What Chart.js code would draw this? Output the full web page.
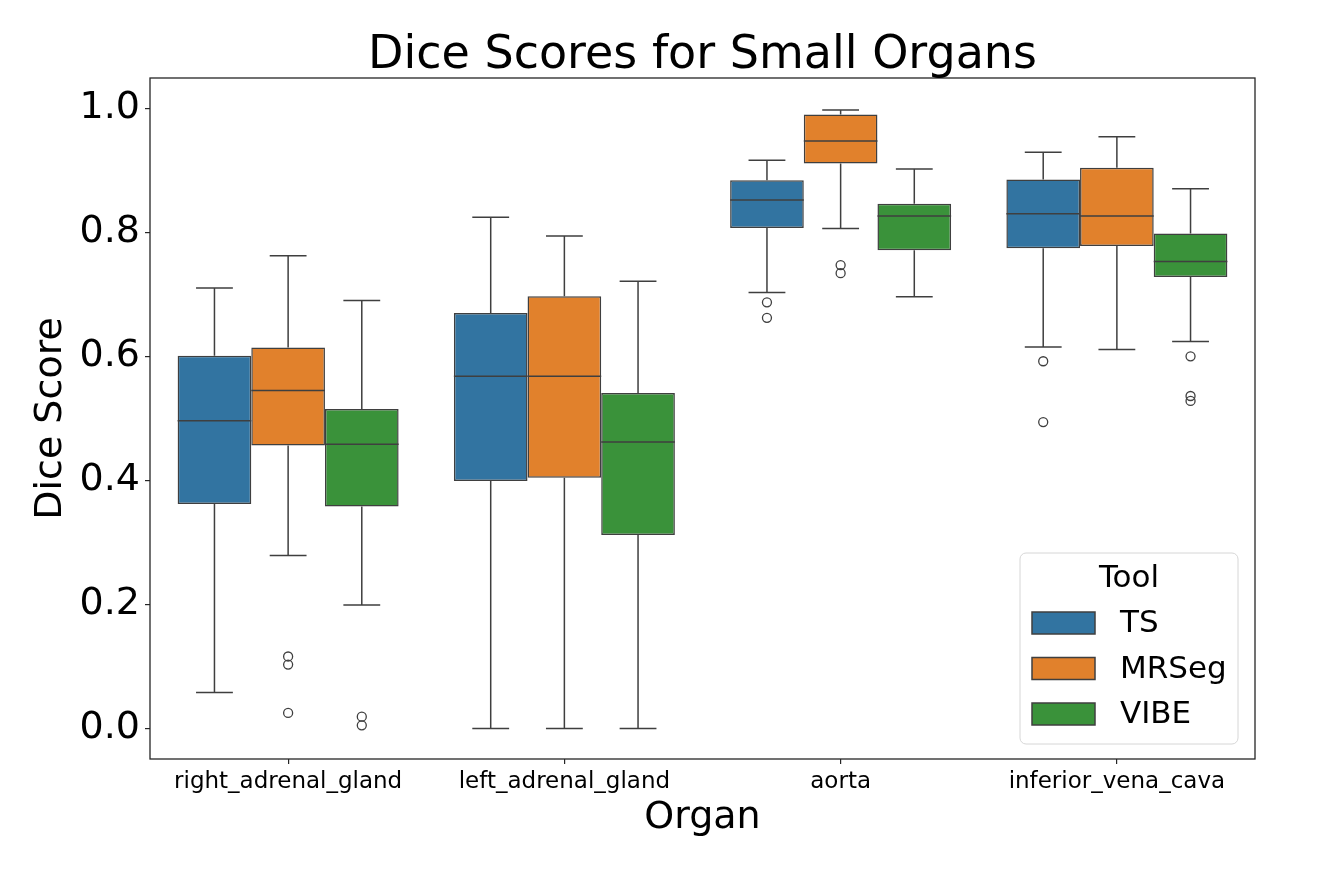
<!DOCTYPE html>
<html>
<head>
<meta charset="utf-8">
<title>Dice Scores for Small Organs</title>
<script src="https://cdn.jsdelivr.net/npm/chart.js@4.4.1/dist/chart.umd.min.js"></script>
<style>
  html, body { margin: 0; padding: 0; background: #fff; }
  #wrap { width: 1341px; height: 894px; }
</style>
</head>
<body>
<div id="wrap"><canvas id="diceChart" width="1341" height="894"></canvas></div>
<script>
// categories and series
const organs = ['right_adrenal_gland', 'left_adrenal_gland', 'aorta', 'inferior_vena_cava'];
const tools = ['TS', 'MRSeg', 'VIBE'];
const toolColors = ['#3274a1', '#e1812c', '#3a923a'];

// box stats, one row per tool (TS, MRSeg, VIBE), one value per organ
const whiskerLow = [
  [0.058, 0.0, 0.703, 0.615],
  [0.279, 0.0, 0.806, 0.611],
  [0.199, 0.0, 0.696, 0.624]
];
const q1 = [
  [0.362, 0.399, 0.807, 0.774],
  [0.456, 0.404, 0.911, 0.778],
  [0.358, 0.312, 0.771, 0.728]
];
const median = [
  [0.496, 0.568, 0.852, 0.830],
  [0.545, 0.568, 0.947, 0.826],
  [0.458, 0.462, 0.826, 0.753]
];
const q3 = [
  [0.601, 0.670, 0.884, 0.885],
  [0.614, 0.697, 0.990, 0.904],
  [0.515, 0.541, 0.846, 0.798]
];
const whiskerHigh = [
  [0.710, 0.824, 0.916, 0.929],
  [0.762, 0.794, 0.997, 0.954],
  [0.690, 0.721, 0.902, 0.870]
];
const outliers = [
  [[], [], [0.687, 0.662], [0.592, 0.494]],
  [[0.116, 0.103, 0.025], [], [0.747, 0.734], []],
  [[0.019, 0.005], [], [], [0.600, 0.536, 0.528]]
];

const yTicks = [0.0, 0.2, 0.4, 0.6, 0.8, 1.0];

const lineColor = '#3f3f3f';
const fontFamily = '"DejaVu Sans", sans-serif';

// whiskers, caps, medians and fliers on top of the floating bars
const boxExtras = {
  id: 'boxExtras',
  afterDatasetsDraw(chart) {
    const ctx = chart.ctx;
    const y = chart.scales.y;
    ctx.save();
    ctx.strokeStyle = lineColor;
    ctx.lineWidth = 1.5;
    chart.data.datasets.forEach((ds, t) => {
      chart.getDatasetMeta(t).data.forEach((bar, i) => {
        const x = bar.x;
        const half = bar.width / 2;
        const cap = half / 2;
        const pLow = y.getPixelForValue(whiskerLow[t][i]);
        const pQ1 = y.getPixelForValue(q1[t][i]);
        const pMed = y.getPixelForValue(median[t][i]);
        const pQ3 = y.getPixelForValue(q3[t][i]);
        const pHigh = y.getPixelForValue(whiskerHigh[t][i]);
        ctx.beginPath();
        ctx.moveTo(x, pQ1); ctx.lineTo(x, pLow);
        ctx.moveTo(x - cap, pLow); ctx.lineTo(x + cap, pLow);
        ctx.moveTo(x, pQ3); ctx.lineTo(x, pHigh);
        ctx.moveTo(x - cap, pHigh); ctx.lineTo(x + cap, pHigh);
        ctx.moveTo(x - half, pMed); ctx.lineTo(x + half, pMed);
        ctx.stroke();
        ctx.lineWidth = 1.3;
        outliers[t][i].forEach(v => {
          ctx.beginPath();
          ctx.arc(x, y.getPixelForValue(v), 4.5, 0, Math.PI * 2);
          ctx.stroke();
        });
        ctx.lineWidth = 1.5;
      });
    });
    ctx.restore();
  },
  afterDraw(chart) {
    const ctx = chart.ctx;
    const area = chart.chartArea;
    ctx.save();
    // frame
    ctx.strokeStyle = '#262626';
    ctx.lineWidth = 1.3;
    ctx.strokeRect(area.left, area.top, area.right - area.left, area.bottom - area.top);

    // title
    ctx.fillStyle = '#000';
    ctx.font = '46px ' + fontFamily;
    ctx.textAlign = 'center';
    ctx.textBaseline = 'middle';
    ctx.fillText('Dice Scores for Small Organs', (area.left + area.right) / 2, 56);

    // legend
    const lx = 1020, ly = 553, lw = 218, lh = 191;
    ctx.beginPath();
    ctx.roundRect(lx, ly, lw, lh, 6);
    ctx.fillStyle = 'rgba(255,255,255,0.8)';
    ctx.fill();
    ctx.strokeStyle = '#d6d6d6';
    ctx.lineWidth = 1;
    ctx.stroke();
    ctx.fillStyle = '#000';
    ctx.font = '31px ' + fontFamily;
    ctx.fillText('Tool', lx + lw / 2, 579);
    ctx.textAlign = 'left';
    chart.data.datasets.forEach((ds, t) => {
      const py = 612 + t * 45.5;
      ctx.fillStyle = ds.backgroundColor;
      ctx.fillRect(1032, py, 63, 22);
      ctx.strokeStyle = lineColor;
      ctx.lineWidth = 1.5;
      ctx.strokeRect(1032, py, 63, 22);
      ctx.fillStyle = '#000';
      ctx.fillText(ds.label, 1120, py + 12);
    });
    ctx.restore();
  }
};

const ctx = document.getElementById('diceChart').getContext('2d');
new Chart(ctx, {
  type: 'bar',
  data: {
    labels: organs,
    datasets: tools.map((tool, t) => ({
      label: tool,
      data: q1[t].map((v, i) => [v, q3[t][i]]),
      backgroundColor: toolColors[t],
      borderColor: lineColor,
      borderWidth: 1.5,
      borderSkipped: false,
      categoryPercentage: 0.8,
      barPercentage: 1.0
    }))
  },
  options: {
    responsive: false,
    animation: false,
    layout: { padding: { top: 78, right: 86, left: 0, bottom: 0 } },
    plugins: {
      legend: { display: false },
      tooltip: { enabled: false },
      title: { display: false }
    },
    scales: {
      x: {
        border: { display: false },
        grid: { display: true, offset: false, drawOnChartArea: false, drawTicks: true, tickLength: 5, tickColor: '#262626', lineWidth: 1.2 },
        ticks: {
          color: '#000',
          font: { family: fontFamily, size: 23 },
          padding: 4,
          maxRotation: 0,
          autoSkip: false
        },
        title: {
          display: true,
          text: 'Organ',
          color: '#000',
          font: { family: fontFamily, size: 38, lineHeight: 1.2 },
          padding: { top: 0, bottom: 53 }
        },
        afterFit(scale) { scale.height = 135; }
      },
      y: {
        min: -0.0493,
        max: 1.0487,
        border: { display: false },
        grid: { display: true, drawOnChartArea: false, drawTicks: true, tickLength: 5, tickColor: '#262626', lineWidth: 1.2 },
        ticks: {
          color: '#000',
          font: { family: fontFamily, size: 38 },
          padding: 5,
          callback: v => v.toFixed(1)
        },
        afterBuildTicks(scale) {
          scale.ticks = yTicks.map(v => ({ value: v }));
        },
        title: {
          display: true,
          text: 'Dice Score',
          color: '#000',
          font: { family: fontFamily, size: 38, lineHeight: 1.2 },
          padding: { top: 28, bottom: 0 }
        },
        afterFit(scale) { scale.width = 150; }
      }
    }
  },
  plugins: [boxExtras]
});
</script>
</body>
</html>
